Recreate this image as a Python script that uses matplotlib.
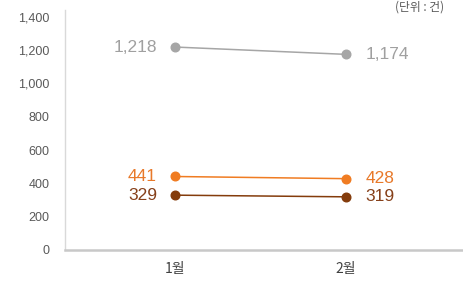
from matplotlib import pyplot as plt

plt.rcParams['font.family'] = ['Liberation Sans', 'Noto Sans CJK KR', 'DejaVu Sans']

# 데이터
months = ["1월", "2월"]
total = [1218, 1174]
series_a = [441, 428]
series_b = [329, 319]
yticks = [0, 200, 400, 600, 800, 1000, 1200, 1400]

fig = plt.figure(figsize=(4.64, 2.87), dpi=100)
ax = fig.add_axes([0.140, 0.129, 0.86, 0.836])

x = range(len(months))
styles = [
    (total, '#a6a6a6', '#a0a0a0'),
    (series_a, '#f07c22', '#e8792a'),
    (series_b, '#843c0c', '#86401a'),
]
for values, line_color, text_color in styles:
    ax.plot(x, values, color=line_color, lw=1.1, marker='o', ms=6.2,
            clip_on=False, zorder=3)
    ax.annotate(f"{values[0]:,}", (0, values[0]), xytext=(-13, 0),
                textcoords='offset points', ha='right', va='center',
                fontsize=12.5, color=text_color)
    ax.annotate(f"{values[1]:,}", (1, values[1]), xytext=(14, 0),
                textcoords='offset points', ha='left', va='center',
                fontsize=12.5, color=text_color)

ax.set_xlim(-0.643, 1.69)
ax.set_ylim(0, 1440)
ax.set_yticks(yticks)
ax.set_yticklabels([f"{v:,}" for v in yticks], fontsize=9, color='#595959')
ax.set_xticks(list(x))
ax.set_xticklabels(months, fontsize=10, color='#404040',
                   family=['Noto Sans CJK KR', 'DejaVu Sans'])
ax.tick_params(length=0, axis='y', pad=11)
ax.tick_params(length=0, axis='x', pad=9)

for side in ['top', 'right']:
    ax.spines[side].set_visible(False)
ax.spines['left'].set_color('#d9d9d9')
ax.spines['left'].set_linewidth(1.0)
ax.spines['bottom'].set_color('#c8c8c8')
ax.spines['bottom'].set_linewidth(1.8)

fig.text(0.852, 0.998, "(단위 : 건)", fontsize=8.5, color='#595959',
         ha='left', va='top', family=['Noto Sans CJK KR', 'DejaVu Sans'])

plt.savefig("out.png", dpi=100)
